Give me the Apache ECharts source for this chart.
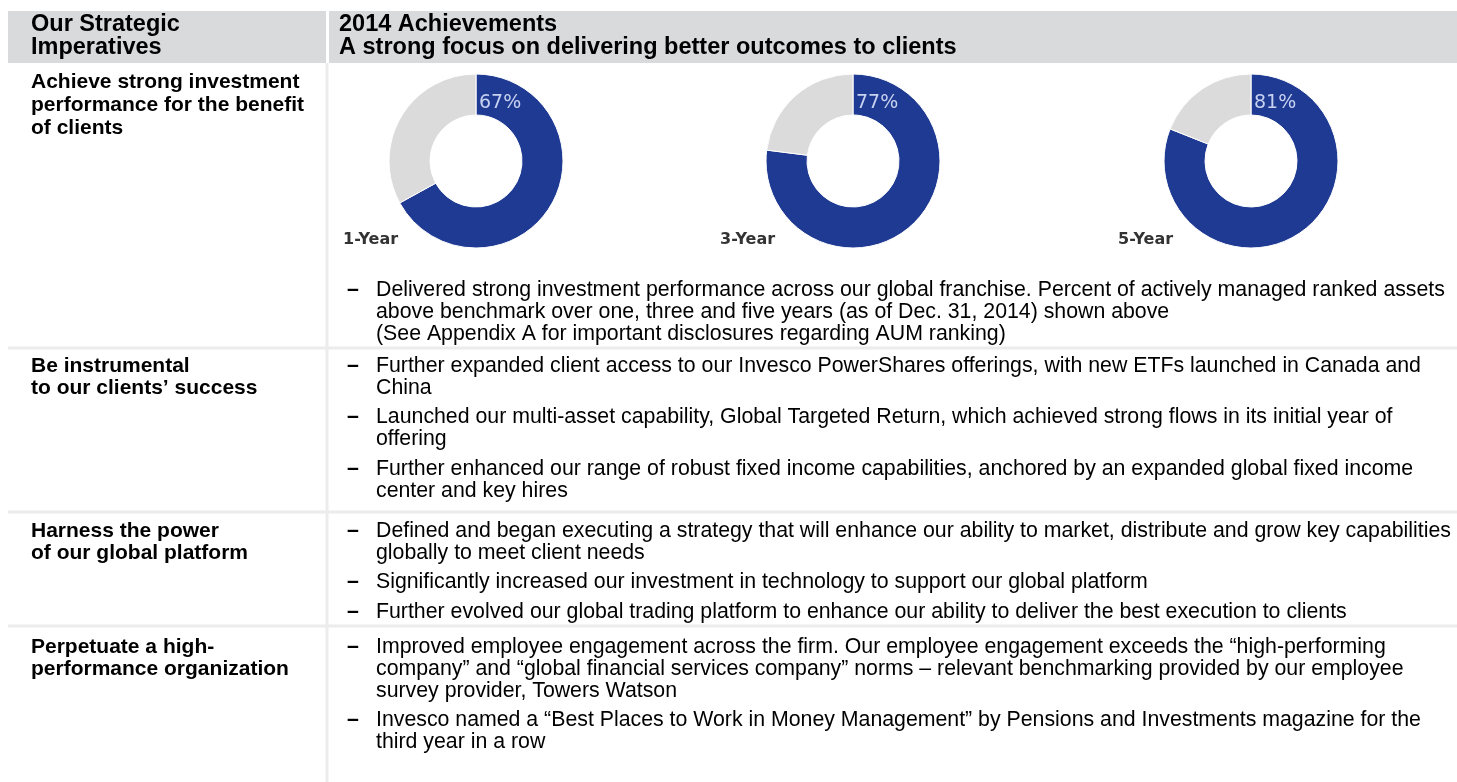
<!DOCTYPE html>
<html>
<head>
<meta charset="utf-8">
<script src="https://cdn.jsdelivr.net/npm/echarts@6/dist/echarts.min.js"></script>
<style>
html, body { margin: 0; padding: 0; background: #fff; }
#main { width: 1457px; height: 782px; }
</style>
</head>
<body>
<div id="main"></div>
<script>
// data
var periods = ['1-Year', '3-Year', '5-Year'];
var aboveBenchmark = [67, 77, 81];

var headerLeft = ['Our Strategic', 'Imperatives'];
var headerRight = ['2014 Achievements', 'A strong focus on delivering better outcomes to clients'];

var imperatives = [
    ['Achieve strong investment', 'performance for the benefit', 'of clients'],
    ['Be instrumental', 'to our clients\u2019 success'],
    ['Harness the power', 'of our global platform'],
    ['Perpetuate a high-', 'performance organization']
];

var achievements = [
    [
        ['Delivered strong investment performance across our global franchise. Percent of actively managed ranked assets',
         'above benchmark over one, three and five years (as of Dec. 31, 2014) shown above',
         '(See Appendix A for important disclosures regarding AUM ranking)']
    ],
    [
        ['Further expanded client access to our Invesco PowerShares offerings, with new ETFs launched in Canada and', 'China'],
        ['Launched our multi-asset capability, Global Targeted Return, which achieved strong flows in its initial year of', 'offering'],
        ['Further enhanced our range of robust fixed income capabilities, anchored by an expanded global fixed income', 'center and key hires']
    ],
    [
        ['Defined and began executing a strategy that will enhance our ability to market, distribute and grow key capabilities', 'globally to meet client needs'],
        ['Significantly increased our investment in technology to support our global platform'],
        ['Further evolved our global trading platform to enhance our ability to deliver the best execution to clients']
    ],
    [
        ['Improved employee engagement across the firm. Our employee engagement exceeds the \u201chigh-performing',
         'company\u201d and \u201cglobal financial services company\u201d norms \u2013 relevant benchmarking provided by our employee',
         'survey provider, Towers Watson'],
        ['Invesco named a \u201cBest Places to Work in Money Management\u201d by Pensions and Investments magazine for the', 'third year in a row']
    ]
];

// look
var BLUE = '#1f3a93';
var RING = '#dbdbdb';
var HEAD = '#d9dadb';
var RULE = '#ececec';
var FAMILY = '"Liberation Sans", Arial, Helvetica, sans-serif';
var headFont = 'bold 23.5px ' + FAMILY;
var titleFont = 'bold 21px ' + FAMILY;
var bodyFont = '21.3px ' + FAMILY;
var dashFont = 'bold 21.3px ' + FAMILY;

var colX = 327;
var lineH = 22;
var bulletGap = 7.5;
var rowStart = [290, 366, 531, 647];
var ruleY = [348, 512, 626];
var donutX = [476, 853, 1251];
var donutY = 161;

var myChart = echarts.init(document.getElementById('main'));
var g = [];

function txt(x, y, s, font, color) {
    g.push({
        type: 'text', silent: true, z: 10,
        style: { text: s, x: x, y: y, font: font, fill: color || '#000', textVerticalAlign: 'middle' }
    });
}
function rect(x, y, w, h, c) {
    g.push({ type: 'rect', silent: true, z: 1, shape: { x: x, y: y, width: w, height: h }, style: { fill: c } });
}

// header band
rect(8, 11, colX - 9, 52, HEAD);
rect(colX + 2, 11, 1457 - colX - 2, 52, HEAD);
headerLeft.forEach(function (s, i) { txt(31, 25 + i * 22.5, s, headFont); });
headerRight.forEach(function (s, i) { txt(339, 25 + i * 22.5, s, headFont); });

// column rule + row rules
rect(colX - 1.5, 63, 3, 782 - 63, RULE);
ruleY.forEach(function (ry) { rect(8, ry - 1.5, 1457 - 8, 3, RULE); });

// rows of text
achievements.forEach(function (bullets, r) {
    var y = rowStart[r];
    var ty = r === 0 ? 82 : y;
    var th = r === 0 ? 23 : lineH;
    imperatives[r].forEach(function (s, i) { txt(31, ty + i * th, s, titleFont); });
    bullets.forEach(function (lines, b) {
        if (b > 0) y += bulletGap;
        txt(347, y, '\u2013', dashFont);
        lines.forEach(function (s) { txt(376, y, s, bodyFont); y += lineH; });
    });
});

// donut captions
aboveBenchmark.forEach(function (v, i) {
    txt(donutX[i] - 133, 240, periods[i], 'bold 16px "DejaVu Sans", Verdana, sans-serif', '#333');
    txt(donutX[i] + 3, 103, v + '%', '19px "DejaVu Sans", Verdana, sans-serif', '#c7d2f0');
});

var option = {
    animation: false,
    backgroundColor: '#fff',
    graphic: g,
    series: aboveBenchmark.map(function (v, i) {
        return {
            type: 'pie',
            name: periods[i],
            center: [donutX[i], donutY],
            radius: [46, 87],
            startAngle: 90,
            clockwise: true,
            silent: true,
            label: { show: false },
            labelLine: { show: false },
            itemStyle: { borderColor: '#fff', borderWidth: 1 },
            data: [
                { name: periods[i], value: v, itemStyle: { color: BLUE } },
                { name: 'other', value: 100 - v, itemStyle: { color: RING } }
            ]
        };
    })
};

myChart.setOption(option);
</script>
</body>
</html>
